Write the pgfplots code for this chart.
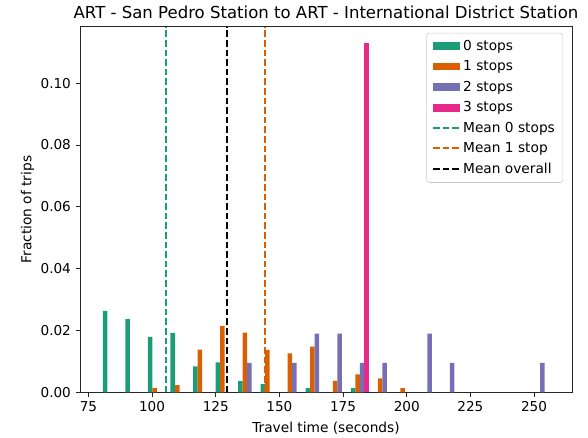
\documentclass[border=0pt]{standalone}
\usepackage{fontspec}
\setmainfont{DejaVu Sans}
\usepackage{pgfplots}
\pgfplotsset{compat=1.18}
\definecolor{colG}{HTML}{1B9E77}
\definecolor{colO}{HTML}{D95F02}
\definecolor{colP}{HTML}{7570B3}
\definecolor{colM}{HTML}{E7298A}
\begin{document}
\begin{tikzpicture}
\useasboundingbox (-60pt,-34.3pt) rectangle (381pt,294.2pt);
\begin{axis}[
  at={(0,0)}, anchor=south west,
  scale only axis, width=369pt, height=274.2pt,
  xmin=71.7, xmax=264.9, ymin=0, ymax=0.1183,
  xtick={75,100,125,150,175,200,225,250},
  ytick={0,0.02,0.04,0.06,0.08,0.1},
  /pgf/number format/assume math mode=true,
  y tick label style={/pgf/number format/.cd, fixed, fixed zerofill, precision=2},
  tick label style={font=\fontsize{10.2}{12}\selectfont},
  tick pos=left, tick align=outside,
  major tick length=3.3pt,
  tick style={line width=0.6pt, black!85},
  axis line style={line width=0.6pt, black!85},
  title={ART - San Pedro Station to ART - International District Station},
  xlabel={Travel time (seconds)},
  ylabel={Fraction of trips},
  every axis title/.style={at={(axis description cs:0.5,1.040)}, anchor=center, font=\fontsize{12.4}{14}\selectfont},
  every axis x label/.style={at={(axis description cs:0.5,-0.0977)}, anchor=center, font=\fontsize{10.3}{12}\selectfont},
  every axis y label/.style={at={(axis description cs:-0.1067,0.5)}, rotate=90, anchor=center, font=\fontsize{10.3}{12}\selectfont},
  legend cell align=left,
  legend style={at={(0.982,0.983)}, anchor=north east, draw=black!20, rounded corners=2pt,
    font=\fontsize{10.3}{12}\selectfont, row sep=2.35pt, inner xsep=4pt, inner ysep=3pt},
]
\addplot[ybar, bar width=1.77, bar shift=0pt, fill=colG, draw=none,
  legend image code/.code={\fill[colG, sharp corners] (0pt,-2.9pt) rectangle (20pt,2.9pt);}] coordinates {
  (81.57,0.0263) (90.42,0.0237) (99.27,0.0179) (108.12,0.0192) (116.97,0.0084)
  (125.82,0.0097) (134.67,0.0036) (143.52,0.0026) (161.22,0.0013) (178.92,0.0013)};
\addlegendentry{0 stops}
\addplot[ybar, bar width=1.77, bar shift=0pt, fill=colO, draw=none,
  legend image code/.code={\fill[colO, sharp corners] (0pt,-2.9pt) rectangle (20pt,2.9pt);}] coordinates {
  (101.04,0.0013) (109.89,0.0023) (118.74,0.0138) (127.59,0.0215) (136.44,0.0193)
  (145.29,0.0137) (154.14,0.0126) (162.99,0.0148) (171.84,0.0037) (180.69,0.0058)
  (189.54,0.0045) (198.39,0.0013)};
\addlegendentry{1 stops}
\addplot[ybar, bar width=1.77, bar shift=0pt, fill=colP, draw=none,
  legend image code/.code={\fill[colP, sharp corners] (0pt,-2.9pt) rectangle (20pt,2.9pt);}] coordinates {
  (138.21,0.0095) (155.91,0.0095) (164.76,0.0190) (173.61,0.0190) (182.46,0.0095)
  (191.31,0.0095) (209.01,0.0190) (217.86,0.0095) (253.26,0.0095)};
\addlegendentry{2 stops}
\addplot[ybar, bar width=1.77, bar shift=0pt, fill=colM, draw=none,
  legend image code/.code={\fill[colM, sharp corners] (0pt,-2.9pt) rectangle (20pt,2.9pt);}] coordinates {
  (184.23,0.1130)};
\addlegendentry{3 stops}
\addplot[colG, line width=1.35pt, dash pattern=on 5pt off 2.2pt,
  legend image code/.code={\draw[colG, line width=1.4pt, dash pattern=on 5pt off 2.2pt] (0pt,0.4pt) -- (20pt,0.4pt);}] coordinates {(105.5,0) (105.5,0.1183)};
\addlegendentry{Mean 0 stops}
\addplot[colO, line width=1.35pt, dash pattern=on 5pt off 2.2pt,
  legend image code/.code={\draw[colO, line width=1.4pt, dash pattern=on 5pt off 2.2pt] (0pt,0.4pt) -- (20pt,0.4pt);}] coordinates {(144.4,0) (144.4,0.1183)};
\addlegendentry{Mean 1 stop}
\addplot[black, line width=1.35pt, dash pattern=on 5pt off 2.2pt,
  legend image code/.code={\draw[black, line width=1.4pt, dash pattern=on 5pt off 2.2pt] (0pt,0.4pt) -- (20pt,0.4pt);}] coordinates {(129.3,0) (129.3,0.1183)};
\addlegendentry{Mean overall}
\end{axis}
\end{tikzpicture}
\end{document}
